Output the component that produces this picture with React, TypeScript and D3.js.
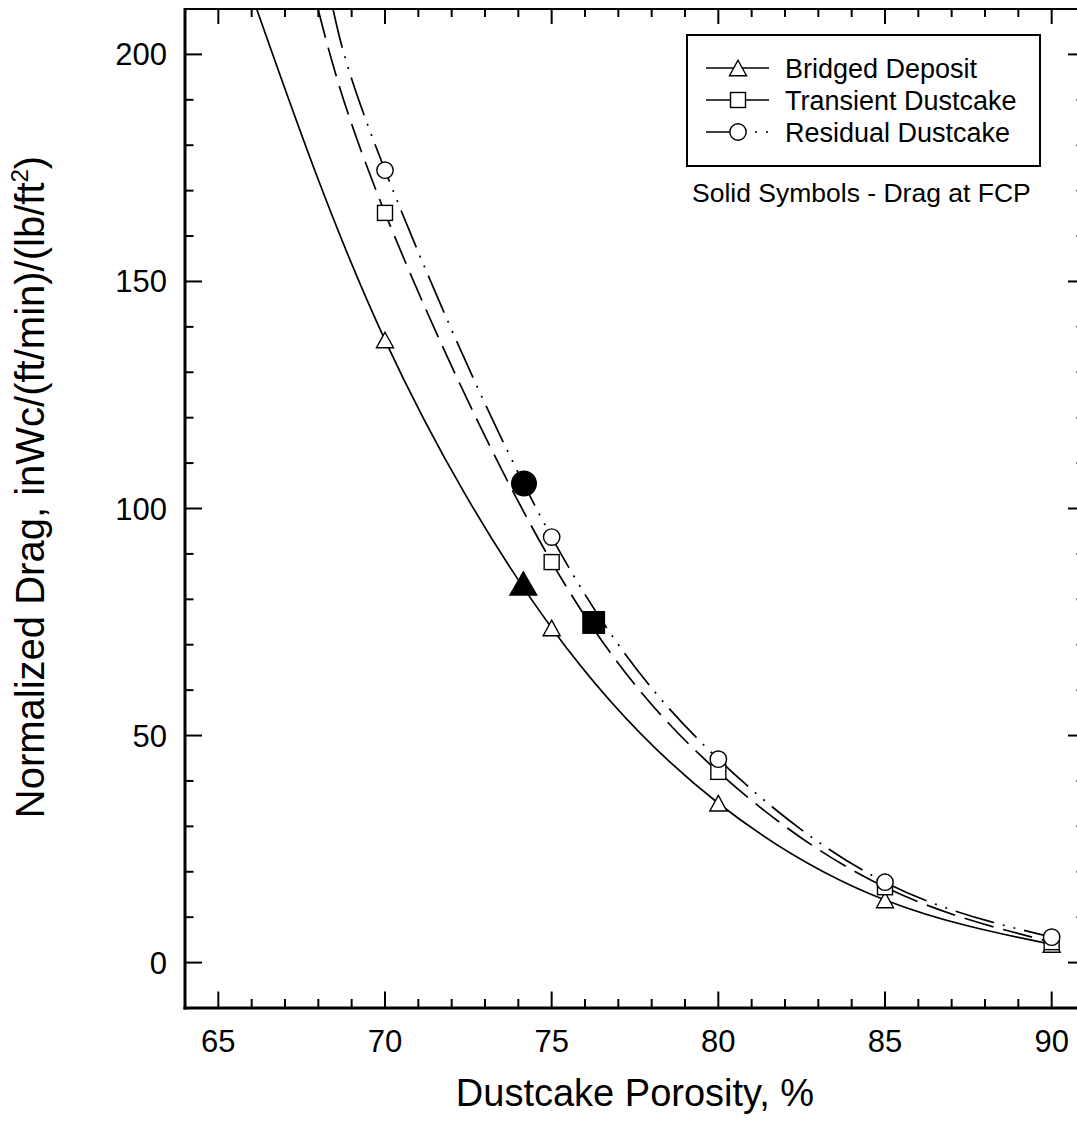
import React from 'react';
import * as d3 from 'd3';

const W = 1077;
const H = 1125;

// axis ticks
const xMajorTicks = [65, 70, 75, 80, 85, 90];
const yMajorTicks = [0, 50, 100, 150, 200];
const xMinorTicks = d3.range(64, 92, 1);
const yMinorTicks = d3.range(-10, 211, 10);

// measured points
const porosity = [70, 75, 80, 85, 90];
const bridgedDrag = [137.1, 73.7, 35.1, 13.8, 4.0];
const transientDrag = [165.1, 88.2, 42.0, 16.6, 4.5];
const residualDrag = [174.5, 93.7, 44.8, 17.7, 5.6];

// fitted curves (traces incl. their extension up to the top frame)
const bridgedCurveX = [66.15, 70, 75, 80, 85, 90];
const bridgedCurveY = [210, 137.1, 73.7, 35.1, 13.8, 4.0];
const transientCurveX = [67.99, 70, 75, 80, 85, 90];
const transientCurveY = [210, 165.1, 88.2, 42.0, 16.6, 4.5];
const residualCurveX = [68.44, 70, 75, 80, 85, 90];
const residualCurveY = [210, 174.5, 93.7, 44.8, 17.7, 5.6];

// drag at FCP (solid symbols)
const fcpBridged = [74.15, 83.5];
const fcpTransient = [76.26, 74.9];
const fcpResidual = [74.17, 105.5];

const legendLabels = ['Bridged Deposit', 'Transient Dustcake', 'Residual Dustcake'];
const noteText = 'Solid Symbols - Drag at FCP';

const FONT = "'Liberation Sans', Arial, Helvetica, sans-serif";
const L = 185, R = 1085, T = 9, B = 1008;

const x = d3.scaleLinear().domain([64, 91]).range([L, R]);
const y = d3.scaleLinear().domain([-10, 210]).range([B, T]);

const DASH_T = '30,10';
const DASH_R = '40,9,2,9,2,9';

function tri(cx: number, cy: number, w: number, h: number) {
  return `M${cx},${cy - h / 2}L${cx + w / 2},${cy + h / 2}L${cx - w / 2},${cy + h / 2}Z`;
}

function Marker({ kind, cx, cy, filled }: { kind: string; cx: number; cy: number; filled?: boolean }) {
  const fill = filled ? '#000' : '#fff';
  const sw = 1.4;
  if (kind === 'tri') {
    const w = filled ? 26.7 : 17;
    const h = filled ? 23 : 15.5;
    return <path d={tri(cx, cy, w, h)} fill={fill} stroke="#000" strokeWidth={sw} />;
  }
  if (kind === 'sq') {
    const s = filled ? 21.5 : 15;
    return <rect x={cx - s / 2} y={cy - s / 2} width={s} height={s} fill={fill} stroke="#000" strokeWidth={sw} />;
  }
  const r = filled ? 12.3 : 8.2;
  return <circle cx={cx} cy={cy} r={r} fill={fill} stroke="#000" strokeWidth={sw} />;
}

export default function App() {
  const line = d3
    .line<[number, number]>()
    .x((d) => x(d[0]))
    .y((d) => y(d[1]))
    .curve(d3.curveNatural);

  const curves = [
    { xs: bridgedCurveX, ys: bridgedCurveY, dash: undefined as string | undefined },
    { xs: transientCurveX, ys: transientCurveY, dash: DASH_T },
    { xs: residualCurveX, ys: residualCurveY, dash: DASH_R },
  ];
  const series = [
    { vals: bridgedDrag, kind: 'tri' },
    { vals: transientDrag, kind: 'sq' },
    { vals: residualDrag, kind: 'circ' },
  ];

  const legendRows = [68, 100, 132];
  const legendDash = [undefined, undefined, DASH_R];
  const legendKinds = ['tri', 'sq', 'circ'];

  return (
    <svg width={W} height={H} style={{ position: 'absolute', left: 0, top: 0, background: '#fff' }} fontFamily={FONT}>
      <defs>
        <clipPath id="plotclip">
          <rect x={L} y={T} width={R - L} height={B - T} />
        </clipPath>
      </defs>
      <rect x={0} y={0} width={W} height={H} fill="#fff" />

      {/* curves */}
      <g clipPath="url(#plotclip)">
        {curves.map((c, i) => (
          <path
            key={i}
            d={line(c.xs.map((v, j) => [v, c.ys[j]] as [number, number])) || ''}
            fill="none"
            stroke="#000"
            strokeWidth={1.7}
            strokeDasharray={c.dash}
          />
        ))}
      </g>

      {/* open markers */}
      {series.map((s, i) =>
        s.vals.map((v, j) => <Marker key={`${i}-${j}`} kind={s.kind} cx={x(porosity[j])} cy={y(v)} />)
      )}

      {/* solid FCP markers */}
      <Marker kind="circ" cx={x(fcpResidual[0])} cy={y(fcpResidual[1])} filled />
      <Marker kind="tri" cx={x(fcpBridged[0])} cy={y(fcpBridged[1])} filled />
      <Marker kind="sq" cx={x(fcpTransient[0])} cy={y(fcpTransient[1])} filled />

      {/* frame */}
      <line x1={L} y1={T} x2={R} y2={T} stroke="#000" strokeWidth={2} />
      <line x1={R} y1={T} x2={R} y2={B} stroke="#000" strokeWidth={2} />
      <line x1={L} y1={T - 1} x2={L} y2={B + 1.5} stroke="#000" strokeWidth={3} />
      <line x1={L - 1.5} y1={B} x2={R} y2={B} stroke="#000" strokeWidth={3} />

      {/* x ticks */}
      {xMinorTicks.map((t) => {
        const major = xMajorTicks.includes(t);
        const len = major ? 16.5 : 9;
        return (
          <g key={`xt${t}`}>
            <line x1={x(t)} x2={x(t)} y1={B} y2={B - len} stroke="#000" strokeWidth={2} />
            <line x1={x(t)} x2={x(t)} y1={T} y2={T + (major ? 15 : 8)} stroke="#000" strokeWidth={2} />
          </g>
        );
      })}
      {/* y ticks */}
      {yMinorTicks.map((t) => {
        const major = yMajorTicks.includes(t);
        const len = major ? 17 : 8.5;
        return (
          <g key={`yt${t}`}>
            <line x1={L} x2={L + len} y1={y(t)} y2={y(t)} stroke="#000" strokeWidth={2} />
            <line x1={R} x2={R - len} y1={y(t)} y2={y(t)} stroke="#000" strokeWidth={2} />
          </g>
        );
      })}

      {/* tick labels */}
      {xMajorTicks.map((t) => (
        <text key={`xl${t}`} x={x(t)} y={1052} fontSize={31} textAnchor="middle">
          {t}
        </text>
      ))}
      {yMajorTicks.map((t) => (
        <text key={`yl${t}`} x={167} y={y(t) + 11} fontSize={31} textAnchor="end">
          {t}
        </text>
      ))}

      {/* axis titles */}
      <text x={(L + R) / 2} y={1106} fontSize={38} textAnchor="middle">
        Dustcake Porosity, %
      </text>
      <text transform={`translate(44,487) rotate(-90)`} fontSize={40} textAnchor="middle">
        Normalized Drag, inWc/(ft/min)/(lb/ft
        <tspan fontSize={24} dy={-16}>2</tspan>
        <tspan dy={16}>)</tspan>
      </text>

      {/* legend */}
      <rect x={687} y={35} width={353} height={131} fill="#fff" stroke="#000" strokeWidth={2} />
      {legendLabels.map((lab, i) => (
        <g key={lab}>
          <line
            x1={706}
            x2={769}
            y1={legendRows[i]}
            y2={legendRows[i]}
            stroke="#000"
            strokeWidth={1.7}
            strokeDasharray={legendDash[i]}
          />
          <Marker kind={legendKinds[i]} cx={738} cy={legendRows[i]} />
          <text x={785} y={legendRows[i] + 9.5} fontSize={27}>
            {lab}
          </text>
        </g>
      ))}
      <text x={692} y={202} fontSize={26.5}>
        {noteText}
      </text>
    </svg>
  );
}
